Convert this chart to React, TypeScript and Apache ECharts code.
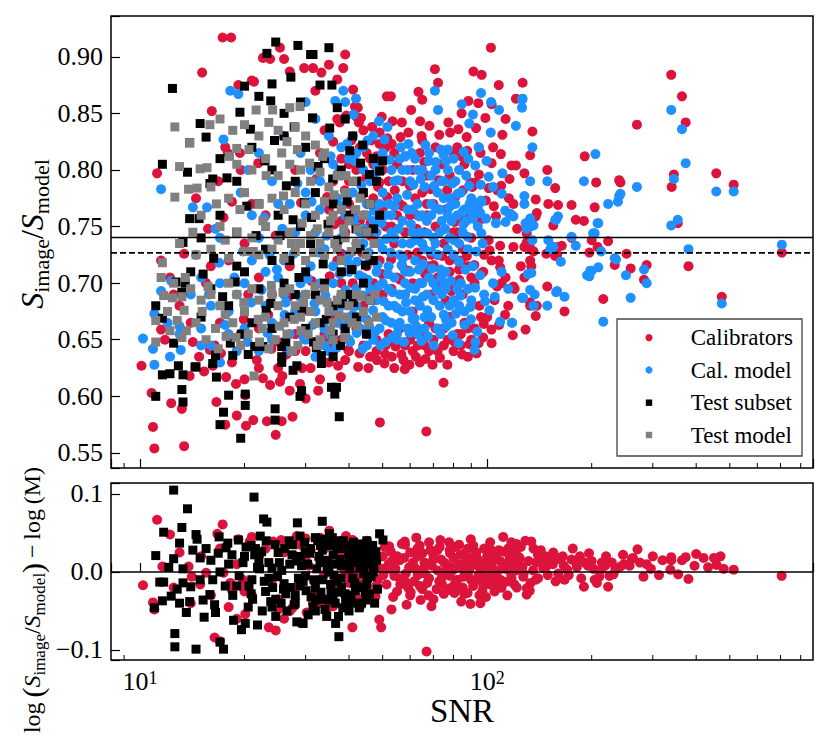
import React, { useEffect, useRef } from 'react';
import * as echarts from 'echarts';

const FONT = "'Liberation Serif', Tinos, 'Nimbus Roman', 'DejaVu Serif', serif";
const RED = '#DC143C';
const BLUE = '#1E90FF';
const BLACK = '#000000';
const GRAY = '#808080';

const X_MIN = 8.25;
const X_MAX = 868;
const TOP_Y_MIN = 0.5367;
const TOP_Y_MAX = 0.936;
const BOT_Y_MIN = -0.1129;
const BOT_Y_MAX = 0.1141;
const MEAN_LINE = 0.7403;
const MEDIAN_LINE = 0.7267;
const ZERO_LINE = 0;
const MINOR_TICKS = [9, 20, 30, 40, 50, 60, 70, 80, 90, 200, 300, 400, 500, 600, 700, 800];
const LEGEND_LABELS = ['Calibrators', 'Cal. model', 'Test subset', 'Test model'];

const calibrators = [
  [17.3,.917],[18.3,.917],[15.1,.886],[22.6,.899],[23.7,.898],[25.3,.908],[29.7,.890],[31.5,.890],[27,.887],[26,.898],[21,.879],[19.2,.875],[21.3,.878],[16.1,.852],[17.6,.820],[17.9,.815],[19.4,.815],[11.2,.797],[17.4,.758],[11.5,.720],[12.2,.705],[11.5,.659],[11.8,.650],[10.1,.627],[13.9,.618],[14.8,.635],[16.2,.627],[10.8,.603],[12.3,.594],[13.2,.589],[10.9,.573],[11.0,.554],[13.4,.556],[17.7,.617],[16.6,.595],[17.6,.575],[19.0,.583],[20.2,.574],[21.2,.579],[20.1,.601],[23.2,.578],[25.6,.578],[24.6,.566],[27.5,.582],[28.9,.611],[23.7,.610],[25.3,.613],[25.7,.618],[22.6,.616],[18.4,.630],[15.9,.641],[16.4,.645],
  [14.5,.775],[16.8,.790],[19.5,.800],[21,.770],[23,.760],[26,.745],[28,.800],[20,.735],[18,.720],[22,.705],[24,.690],[27,.715],[15.5,.700],[13,.680],[17,.665],[19.5,.655],[22,.660],[25,.648],[28,.655],[30,.640],[14,.665],[12.5,.690],[16,.715],[20.5,.690],
  [22,.625],[25,.625],[28,.640],[31,.625],[33,.615],[35,.630],[27,.605],[30,.598],[20,.615],
  [14.2,.648],[15.3,.622],[17.1,.638],[18.9,.611],[21.7,.632],[23.9,.642],[26.4,.637],[29.3,.625],[31.8,.648],[32.6,.605],[19.9,.668],[23.4,.672],[26.8,.688],[29.8,.676],[31.2,.702],[24.6,.742],[29.1,.771],[32.2,.792],[21.9,.806],[18.4,.772],[15.7,.748],[13.4,.726],
  [33.3,.886],[38.5,.890],[39,.902],[41.1,.871],[41.6,.856],[42.4,.855],[39.3,.848],[42,.847],[42.7,.842],[35,.893],[37,.880],[32,.870],
  [46.3,.826],[49,.823],[49,.833],[51.6,.828],[56.3,.829],[53.4,.843],[51.4,.865],[52.8,.865],[44,.835],[45,.815],[47,.805],[43,.820],[48,.812],[50,.800],[52,.790],[55,.805],[58,.812],[45,.795],[48.5,.785],[42,.800],[40,.790],[38,.810],[36,.825],[34,.835],[37,.845],[33,.815],
  [36,.790],[40,.805],[43,.790],[46,.810],[51,.820],[54,.815],[57,.790],[61,.800],[64,.815],[67,.795],[71,.820],[74,.805],[78,.795],[82,.820],[86,.805],
  [37.6,.842],[40.6,.826],[43.3,.846],[46.6,.838],[49.7,.847],[53.1,.823],[56.8,.842],[60.4,.853],[64.1,.843],[68.2,.839],[72.8,.831],[77.3,.842],[82.6,.836],[87.3,.829],[92.9,.837],[98.8,.846],
  [40,.770],[44,.760],[47,.775],[50,.765],[53,.750],[56,.770],[60,.760],[62,.775],[65,.780],[58,.745],[54,.735],[46,.742],[42,.735],[38,.755],[35,.765],[63,.740],[67,.760],[70,.770],[66,.745],
  [34.6,.776],[36.3,.752],[38.9,.782],[41.2,.762],[43.7,.778],[46.1,.753],[48.9,.789],[51.5,.776],[54.2,.782],[57.1,.768],[59.9,.786],[62.6,.748],[65.9,.807],[68.7,.783],[72.6,.791],[76.7,.782],[80.9,.776],[85.1,.782],[89.6,.789],[94.7,.796],[99.1,.773],[104.5,.768],[109.7,.786],
  [39,.745],[43,.755],[47,.740],[51,.750],[55,.760],[59,.725],[63,.760],[67,.770],[71,.750],[76,.765],[82,.745],[88,.760],
  [37,.720],[41,.700],[45,.715],[49,.720],[53,.695],[57,.715],[61,.700],[65,.720],[69,.725],[73,.700],[78,.710],[84,.720],[90,.705],
  [35.2,.706],[38.1,.726],[40.8,.713],[43.6,.727],[46.4,.692],[49.8,.708],[52.9,.721],[56.2,.703],[59.4,.711],[62.9,.727],[66.3,.708],[70.1,.716],[74.2,.724],[78.9,.693],[83.1,.703],[87.4,.724],[91.8,.716],[96.5,.709],[101.6,.729],[106.8,.697],
  [75,.735],[80,.745],[85,.730],[90,.740],[78,.720],[83,.712],[72,.725],[68,.715],
  [37.9,.617],[42.5,.626],[50.6,.629],[57.9,.624],[53.1,.635],[57.4,.632],[62.3,.635],[54.5,.644],[74.9,.612],[49.1,.577],[66.8,.569],[40,.640],[44,.645],[46,.635],[39,.632],[48,.650],[52,.655],[56,.660],[60,.650],[65,.655],[68,.665],[70,.650],[75,.660],[78,.670],[82,.655],[86,.665],[90,.650],[61,.675],[58,.690],[64,.700],[69,.690],[72,.705],[55,.705],[50,.690],[47,.700],[44,.680],[41,.690],[38,.700],[36,.670],[34,.655],[76,.685],[80,.700],[85,.690],[88,.715],[92,.700],[95,.680],[97.4,.652],[103,.647],[94.5,.647],[118.5,.654],[129,.659],[100,.670],[105,.685],[110,.700],[115,.680],[120,.695],[125,.715],[108,.720],[98,.725],
  [36,.640],[38,.650],[42,.660],[45,.655],[48,.640],[51,.645],[54,.625],[58,.645],[61,.640],[64,.630],[68,.640],[71,.660],[75,.645],[80,.640],[84,.655],[88,.660],[92,.660],[96,.670],
  [34.8,.647],[37.2,.627],[39.8,.641],[42.9,.638],[45.5,.625],[48.1,.632],[50.9,.637],[53.6,.648],[56.6,.637],[59.7,.628],[63.1,.645],[66.4,.633],[69.6,.628],[73.1,.634],[76.8,.628],[80.6,.648],[84.7,.637],[88.9,.646],[93.2,.638],[97.8,.664],[102.9,.659],[108.2,.663],[112.6,.672],
  [62,.655],[66,.645],[72,.640],[77,.650],[84,.645],[88,.635],
  [63.4,.869],[65,.862],[70.7,.889],[72.2,.877],[102.5,.908],[91.3,.887],[96.4,.884],[88.3,.861],[94.3,.859],[84.4,.850],[108,.875],[103,.858],[110.6,.831],[126.5,.877],[121,.863],[104,.820],[109.5,.814],[94.5,.820],[95.7,.815],[87.6,.817],[79.9,.815],[84.4,.812],[78.2,.833],[64.7,.830],[65,.826],[59.3,.833],[103,.806],[117.5,.804],[128,.797],[92.6,.789],[90.6,.785],[115.5,.775],[119,.770],[97.4,.757],[101,.784],[107,.782],[94,.754],[87,.756],[80.6,.754],[84.4,.757],[106,.759],[122,.748],[121,.804],[116,.792],
  [97.4,.710],[103,.720],[109,.714],[113,.705],[119,.697],[128,.705],[133,.683],[139,.762],[130,.744],[133,.731],
  [135,.834],[133,.813],[138,.774],[138,.759],[128,.732],[136,.728],[133,.720],[134,.715],[133,.680],[138,.671],[149,.800],[157,.784],[175,.769],[160,.769],[150,.770],[155,.751],[180,.756],[190,.755],[164,.733],[155,.732],[159,.725],[149,.697],[167,.675],[191,.812],[206,.789],[240,.791],[242,.789],[204,.767],[200,.738],[223,.737],[208,.732],[197,.727],[233,.716],[252,.726],[259,.713],[288,.716],[283,.703],[216,.686],[270,.840],[339,.884],[364,.865],[373,.842],[345,.796],[340,.785],[457,.797],[513,.787],[354,.753],[380,.715],[706,.727],[474,.688],[175,.740],[109,.733],[101,.738],[119,.732],[130,.736],[160,.732],[148,.726],[157,.724],[139,.680],[113,.845]
];

const calModel = [
  [18.2,.870],[19.2,.867],[17.4,.827],[11.5,.783],[14.2,.767],[15.6,.767],[16.5,.748],[12.3,.702],[11.5,.693],[11.0,.673],[10.2,.651],[10.9,.642],[12.2,.635],[13.1,.641],[11.0,.628],[13,.662],[14,.690],[15,.705],[16,.680],[17,.700],[18,.675],[19,.690],[20,.660],[21,.720],[22,.740],[23,.680],[24,.665],[25,.705],[26,.690],[27,.655],[28,.675],[14.5,.725],[17,.740],[19.5,.780],[20.5,.800],[22,.815],[24,.790],[26,.830],[27,.770],[18,.655],[16,.645],[22,.640],[15,.660],
  [20,.700],[23,.710],[26,.720],[29,.700],[31,.715],[33,.700],[21,.760],[25,.770],[28,.745],[30,.780],[33,.765],[24,.650],[27,.640],[30,.650],[32,.635],[34,.645],[19,.640],[17,.630],[15,.645],[13,.655],[12,.665],
  [15.8,.690],[16.9,.718],[18.7,.705],[19.8,.728],[20.9,.683],[22.4,.694],[23.6,.725],[24.8,.712],[26.3,.683],[27.7,.726],[28.9,.688],[30.4,.704],[31.8,.682],[32.9,.727],[22.8,.758],[25.7,.748],[28.4,.788],[31.2,.772],[29.6,.652],[31.4,.663],[26.1,.672],[23.3,.656],[20.4,.648],[17.6,.663],
  [38.5,.870],[39,.860],[36.5,.861],[41.9,.863],[41.2,.849],[48.8,.843],[51.6,.838],[56.4,.820],[59.3,.823],[60.7,.815],[66.4,.822],[70.7,.870],[72.2,.853],[71.1,.807],[74.9,.813],[77,.818],[30,.860],[32,.845],[35,.830],[29,.815],[31,.800],[33,.790],[36,.805],[38,.795],[40,.810],[42,.815],[44,.800],[46,.790],[48,.805],[50,.780],[52,.770],[54,.790],[57,.800],[60,.790],[63,.800],[66,.785],[69,.795],[72,.780],[75,.790],[78,.775],[81,.790],[84,.780],[87,.795],[90,.775],[93,.770],
  [35.4,.812],[37.3,.798],[39.5,.823],[41.6,.808],[43.4,.786],[45.2,.826],[47.8,.798],[50.6,.827],[52.4,.809],[55.3,.791],[58.1,.812],[61.3,.787],[64.4,.792],[67.9,.808],[70.4,.786],[73.5,.818],[76.2,.808],[79.4,.788],[82.2,.779],[85.6,.816],[88.7,.786],[92.4,.804],[95.8,.787],[99.6,.808],
  [30,.760],[32,.745],[34,.730],[36,.715],[38,.740],[40,.725],[42,.750],[44,.735],[46,.720],[48,.745],[50,.730],[52,.715],[54,.740],[56,.725],[58,.710],[60,.735],[62,.720],[64,.745],[66,.730],[68,.705],[70,.740],[72,.725],[74,.755],[76,.710],[78,.740],[80,.725],[82,.760],[85,.745],[88,.730],[91,.715],[94,.750],[97,.735],[45,.760],[49,.770],[53,.760],[57,.755],[61,.765],[65,.760],[69,.770],[73,.765],[77,.760],[81,.770],[86,.765],
  [34.5,.742],[36.8,.733],[38.2,.768],[39.7,.718],[41.3,.757],[42.8,.707],[44.1,.748],[45.6,.727],[47.2,.764],[48.3,.716],[49.6,.753],[51.2,.739],[52.7,.727],[54.1,.768],[55.6,.748],[57.2,.722],[58.8,.778],[60.3,.752],[62.1,.738],[63.8,.759],[65.4,.717],[67.3,.744],[69.1,.728],[71.2,.766],[73.4,.712],[75.6,.748],[77.8,.767],[80.3,.738],[82.9,.719],[85.4,.752],[87.8,.741],[90.3,.762],[93.1,.728],[96.2,.744],[99.3,.757],
  [30,.690],[32,.675],[34,.660],[36,.650],[38,.680],[40,.665],[42,.695],[44,.670],[46,.655],[48,.685],[50,.670],[52,.695],[54,.680],[56,.665],[58,.690],[60,.675],[62,.695],[64,.680],[66,.670],[70,.685],[74,.690],[78,.680],[82,.695],[86,.675],[90,.685],[92,.641],[92.5,.648],[117.8,.665],[35,.640],[40,.650],[45,.645],[55,.650],[65,.700],[75,.700],[98,.690],[104,.700],[110,.710],[115,.695],
  [34.2,.689],[35.9,.676],[37.6,.708],[39.1,.694],[40.7,.683],[42.2,.719],[43.9,.689],[45.3,.703],[46.9,.676],[48.6,.697],[50.3,.684],[51.8,.708],[53.4,.692],[55.1,.678],[56.7,.716],[58.4,.683],[60.1,.696],[61.8,.669],[63.6,.712],[65.3,.688],[67.2,.676],[69.4,.713],[71.5,.694],[73.8,.705],[76.1,.668],[78.6,.702],[81.2,.673],[83.7,.689],[86.5,.712],[89.4,.679],[92.3,.696],[95.4,.707],[98.6,.684],[101.5,.676],[105.2,.688],
  [35.1,.655],[36.9,.643],[38.6,.662],[40.3,.648],[42.1,.656],[43.8,.642],[45.7,.662],[47.5,.657],[49.3,.645],[51.1,.667],[53.2,.652],[55.4,.661],[57.6,.648],[59.8,.656],[62.4,.662],[64.7,.649],[67.5,.653],[70.2,.645],[73.3,.655],[76.4,.662],[79.6,.654],[82.7,.647],[86.1,.663],[89.8,.668],[93.6,.657],
  [37,.775],[39,.760],[41,.780],[43,.745],[45,.770],[47,.755],[49,.735],[51,.760],[53,.745],[55,.775],[57,.735],[59,.765],[61,.745],[63,.770],[65,.735],[67,.755],[69,.760],[71,.735],[73,.745],[75,.775],[77,.730],[79,.755],[83,.735],[87,.755],[89,.770],
  [36,.700],[38,.690],[40,.710],[42,.680],[44,.705],[46,.695],[48,.710],[50,.700],[52,.680],[54,.705],[56,.690],[58,.700],[60,.710],[62,.685],[64,.700],[67,.690],[70,.700],[73,.680],[76,.695],[80,.685],[84,.700],[88,.695],
  [37,.665],[39,.655],[41,.672],[43,.660],[45,.668],[47,.650],[49,.660],[51,.648],[53,.665],[55,.655],[57,.675],[59,.660],[61,.668],[63,.655],[66,.660],[69,.670],[72,.660],[75,.672],[79,.665],[83,.680],
  [38,.820],[41,.830],[44,.820],[47,.830],[50,.815],[53,.800],[56,.810],[59,.800],[62,.810],[65,.800],[68,.815],[71,.800],[74,.790],[77,.800],[80,.810],[83,.800],
  [96,.868],[91,.849],[84.5,.858],[102.6,.860],[108.2,.853],[88.8,.841],[102.4,.833],[126.5,.863],[126,.855],[121,.839],[110.6,.797],[101,.794],[104,.785],[110.2,.779],[112.7,.764],[117,.761],[96,.773],[95.5,.762],[106,.753],[113,.754],[94.6,.820],[88.2,.810],[96.4,.772],[85,.763],[92,.764],[91,.757],[94,.766],[116,.761],[119,.759],[129,.753],[133,.757],[136,.751],[130,.748],[157,.756],[160,.759],[209,.753],[223,.770],[240,.777],[180,.733],[213,.728],[233,.722],[202,.744],[152,.730],[155,.732],[163,.719],[175,.741],[194,.707],[200,.711],[209,.714],[216,.666],[158,.692],[167,.688],[126,.687],[118,.665],[109,.666],[339,.853],[364,.836],[373,.806],[345,.792],[457,.781],[513,.781],[339,.751],[354,.756],[380,.730],[706,.734],[474,.682],[205,.814],[190,.790],[242,.779],[238,.772],[270,.785],[208,.753],[204,.744],[235,.721],[251,.707],[197,.706],[198,.711],[283,.712],[288,.700],[259,.687],[149,.790],[135,.820],[133,.790],[128,.777],[128,.770],[133,.750],[135,.738],[131,.708],[134,.709],[133,.694],[137,.690],[127,.687],[136,.680],[149,.680],[158,.756],[150,.738],[159,.693],[126,.862]
];

const testSubset = [
  [12.4,.872],[23.2,.903],[24.6,.913],[28.5,.910],[31,.902],[27.2,.882],[20,.874],[24,.876],[23.8,.861],[19.4,.851],[14.9,.841],[15.5,.829],[13.9,.824],[11.6,.805],[13.7,.798],[15.9,.788],[16.2,.792],[13.9,.757],[13.3,.736],[12.7,.701],[13.5,.700],[13.2,.692],[11.1,.680],[11.6,.669],[12.5,.647],[11.6,.619],[12.2,.620],[12.9,.627],[13.3,.619],[14.5,.626],[16.2,.629],[11.1,.600],[13.2,.606],[13.3,.595],[16.5,.636],[16.6,.617],[18.0,.601],[17.4,.586],[17.0,.575],[20.1,.592],[20.1,.602],[19.5,.563],[24.5,.589],[24.5,.579],[29.2,.605],[28.9,.600],[28.3,.627],[27.6,.623],[25.6,.635],[25.6,.630],[18.5,.636],[20.5,.637],[21.4,.644],[22.6,.644],[25.6,.644],[14.4,.626],[18.2,.647],[31.5,.902],[35,.908],[35.7,.875],[35.6,.608],[36.8,.608],[36.4,.602],[37.5,.582],[33.3,.636],[33.3,.629],[32.2,.643],[36,.635],
  [17,.810],[19,.790],[21,.820],[22,.770],[24,.800],[26,.830],[28,.790],[30,.820],[32,.780],[34,.810],[36,.770],[38,.800],[40,.760],[42,.790],[44,.780],[46,.770],[25,.760],[29,.750],[31,.735],[27,.720],[23,.730],[19,.745],[17,.760],[15,.740],[20,.710],[22,.695],[24,.720],[26,.700],[28,.690],[30,.710],[32,.690],[34,.700],[36,.680],[38,.710],[40,.690],[42,.670],[44,.700],[46,.685],[18,.680],[21,.665],[24,.660],[27,.670],[30,.660],[33,.665],[36,.655],[39,.660],[16,.695],[14,.710],[15,.670],[19,.715],[41,.830],[39,.845],[37,.855],[29,.860],[26,.850],[22,.865],[33,.875],[47,.810],[48,.790],[45,.745],[43,.730],[47,.720],[49,.760],[40.2,.817],[50,.808],[49,.799],
  [14.8,.757],[16.3,.722],[17.8,.793],[18.8,.701],[20.3,.768],[21.6,.742],[22.9,.808],[23.8,.682],[25.3,.742],[26.4,.786],[27.6,.756],[28.7,.705],[29.8,.771],[31.2,.758],[32.6,.803],[33.7,.717],[34.8,.752],[35.9,.792],[37.1,.738],[38.3,.682],[39.5,.772],[40.7,.712],[41.9,.748],[43.2,.806],[44.6,.716],[45.8,.796],[47.1,.748],[29.3,.677],[31.6,.648],[34.4,.668],[37.8,.645],[41.2,.683],[44.9,.655],[23.1,.676],[26.3,.648],[19.6,.655],[17.3,.688],[15.2,.708],[35.2,.837],[31.4,.846],[27.8,.838],[24.4,.826],[20.8,.836],[43.8,.822]
];

const testModel = [
  [21.6,.853],[24.1,.853],[27,.855],[28.9,.856],[12.6,.838],[15.9,.840],[13.9,.824],[19,.819],[13,.803],[14.9,.801],[15.6,.802],[12.6,.776],[13.8,.783],[14.6,.784],[11.6,.718],[11.7,.689],[12.4,.687],[13.4,.676],[11.1,.667],[12.8,.667],[13.6,.658],[13.2,.652],[11.1,.648],[21.3,.618],[16.8,.642],[17.7,.653],
  [17,.845],[18.5,.835],[20,.840],[22,.830],[23.5,.842],[25,.835],[26.5,.825],[28,.838],[30,.830],[32,.822],[34,.815],[19,.805],[21,.800],[23,.810],[25,.795],[27,.805],[29,.800],[31,.790],[33,.798],[35,.785],[37,.795],[39,.780],[41,.790],[43,.775],[16,.785],[18,.775],[20,.780],[22,.770],[24,.775],[26,.765],[28,.780],[30,.770],[32,.760],[34,.772],[36,.760],[38,.765],[40,.755],[44,.760],[15,.760],[17,.750],[19,.745],[21,.740],[23,.750],[25,.738],[27,.745],[29,.735],[31,.742],[33,.735],[35,.745],[37,.730],[39,.740],[42,.735],[45,.745],[13,.735],[14.5,.725],[16,.730],[18,.722],[20,.728],[22,.725],[24,.730],[26,.722],[28,.728],[30,.720],[34,.725],[38,.720],[46,.770],
  [18.1,.812],[20.6,.818],[23.1,.795],[25.6,.815],[28.4,.818],[30.8,.806],[33.6,.812],[36.2,.778],[39.2,.795],[41.8,.765],[16.6,.770],[19.4,.765],[22.6,.755],[25.9,.777],[29.3,.753],[32.4,.748],[35.4,.755],[38.6,.748],[42.4,.748],[44.8,.725],[47.2,.735],[14.2,.745],[17.6,.738],[21.2,.728],[27.3,.735],[31.6,.727],[36.4,.735],[40.6,.728],
  [11.5,.705],[12.5,.700],[14,.695],[15,.685],[16,.690],[17,.680],[18,.700],[19,.690],[20,.675],[21,.695],[22,.685],[23,.670],[24,.690],[25,.680],[26,.665],[27,.695],[28,.680],[29,.670],[30,.690],[31,.675],[32,.665],[33,.685],[34,.695],[35,.675],[36,.665],[37,.685],[38,.690],[39,.670],[40,.680],[42,.690],[44,.675],[46,.685],[48,.670],[14.5,.665],[16.5,.660],[18.5,.665],[20.5,.655],[22.5,.660],[24.5,.650],[26.5,.655],[28.5,.645],[30.5,.655],[33,.650],[36,.650],[12,.675],[15.5,.650],[19.5,.645],[23.5,.642],[27.5,.640],[13.5,.705],
  [13.2,.688],[15.7,.697],[17.6,.672],[19.9,.683],[21.9,.668],[23.9,.698],[25.8,.692],[27.8,.668],[29.6,.683],[31.9,.697],[34.6,.683],[37.4,.672],[40.8,.665],[43.3,.688],[45.6,.665],[47.6,.690],[15.1,.675],[18.9,.652],[22.1,.648],[25.2,.662],[29.1,.658],[32.4,.645],[35.4,.658],[38.9,.652],[42.2,.662],[12.2,.658]
];

const residCal = [
  [11.2,.067],[17.3,.061],[16.7,.049],[10.2,-.017],[11.6,.007],[10.9,-.039],[11.0,-.048],[16.4,-.084],[17.0,-.089],[20.1,-.054],[23.5,-.071],[24.6,-.075],[40.9,-.071],[48.9,-.061],[49.5,-.071],[53,-.048],[66.9,-.102],[57.9,.039],[52.2,.033],[102,.038],[134,.039],[136,.030],[271,.029],[339,.019],[339,.015],[373,.019],[364,.015],[261,.017],[263,.018],[248,.010],[242,.007],[234,.003],[231,-.003],[288,.010],[282,-.006],[337,.003],[355,-.003],[380,-.009],[458,.009],[480,.004],[513,.003],[705,-.005],[207,-.014],[204,-.010],[223,-.019],[190,-.019],[213,.003],[214,.012],[200,.014],[191,.012],[175,.016],[180,.012],[167,-.010],[159,.018],[151,.017],[148,.007],[148,.012],[130,-.029],[130,-.021],[89.5,-.041],[87.8,-.027],[80.5,-.027],[78,-.021],[138,-.010],[117.5,-.008],[102,-.016],[104.5,-.014],[97.5,-.018],
  [12.2,.048],[13.8,.007],[14.1,-.006],[14.9,-.016],[15.5,-.001],[17.4,-.001],[18.2,-.014],[18.4,-.023],[19.8,-.010],[20.2,-.019],[20.7,.039],[19.2,.042],[24.2,.039],[25.5,.041],[28.3,.046],[30,.043],[33,.044],[35.1,.053],[39.2,.046],[41,.041],[43.9,.033],[25,-.048],[27.5,-.046],[30.2,-.052],[31.5,-.040],[36,-.044],[39.3,-.031],[42.8,-.036],[44.6,-.023],[47.7,-.031],
  [50,.020],[52,.010],[54,-.005],[56,.015],[58,-.012],[60,.025],[62,.005],[64,-.018],[66,.012],[68,-.008],[70,.022],[72,.002],[74,-.015],[76,.010],[78,-.005],[80,.018],[82,-.010],[84,.006],[86,.024],[88,-.002],[90,.012],[92,-.012],[94,.016],[96,.003],[98,-.007],[100,.020],[103,.008],[106,-.004],[109,.014],[112,.026],[115,-.012],[118,.010],[121,.002],[124,.018],[127,-.006],[55,-.025],[60,-.030],[65,-.022],[70,-.035],[75,-.028],[85,-.020],[95,-.030],[105,-.025],[110,-.020],[58,.035],[63,.030],[68,.038],[73,.032],[78,.028],[83,.035],[88,.030],[93,.025],[98,.030],[108,.028],[115,.030],[120,.025],[125,.032],[140,.022],[145,.005],[155,.025],[165,.020],[170,.003],[185,.020],[195,.008],[220,.020],[225,-.005],[300,.020],[320,.015],[400,.023],[420,.018],[450,.018],[470,.020],
  [30.6,.008],[31.7,-.012],[32.8,.018],[33.9,-.004],[35.3,.012],[36.4,-.022],[37.7,.026],[38.8,.002],[40.1,-.014],[41.4,.022],[42.7,-.002],[44.2,.014],[45.6,-.026],[47.1,.028],[48.4,-.010],[49.8,.004],
  [51.3,-.016],[52.8,.026],[54.4,.004],[55.9,-.008],[57.6,.018],[59.2,-.020],[61.1,.012],[63.1,-.004],[65.1,.024],[67.2,-.014],[69.3,.008],[71.5,-.022],[73.7,.016],[75.9,.000],[78.2,.024],[80.6,-.016],[83.1,.010],[85.6,-.006],[88.3,.018],[91.1,-.018],[93.9,.008],[96.8,-.012],[99.7,.014],[102.8,-.002],[106.1,.022],[109.3,-.010],[112.7,.004],[116.2,.018],[119.8,-.016],[123.5,.010],[127.4,-.002],[131.5,.014],[135.6,.002],[140.2,-.008],[144.6,.016],[149.5,-.004],[154.6,.010],[160.2,-.002],[166.3,.008],
  [50.7,.032],[53.6,-.032],[56.8,.036],[60.2,-.026],[63.9,.034],[67.8,-.030],[71.9,.028],[76.3,-.024],[80.9,.032],[85.9,-.028],[91.2,.034],[96.9,-.024],[102.6,.028],[108.8,-.020],[115.1,.026],[121.7,-.020],
  [52.2,.004],[55.1,.020],[58.3,-.002],[61.6,-.012],[65.6,.004],[69.9,.016],[74.1,-.006],[78.8,.006],[83.7,.022],[88.9,.004],[94.4,-.004],[100.3,.006],[106.6,-.016],[113.4,.010],[120.5,.006],
  [45.1,.040],[62.5,.044],[73.3,.041],[89.7,.042],[111.2,.045],[128.8,.040],[58.6,-.042],[69.1,-.044],[84.2,-.038],[95.6,-.040],[114.3,-.030],[132.6,-.024],[121.4,.036],[142.7,.028],[176.4,.030],[196.5,.024],[186.6,-.008],[218.7,.008],[246.2,.022],[296.2,.004],[312.5,-.004],[395.6,.008],[432.8,.006],
  [41.9,.006],[43.4,-.008],[46.2,.018],[47.9,-.018],[50.2,-.004],[53.1,.014],[56.2,-.016],[59.6,.006],[62.9,.020],[66.1,-.002],[68.6,.028],[72.8,-.012],[75.2,.012],[79.4,.002],[81.8,-.022],[86.9,.012],[89.9,-.010],[92.6,.022],[97.7,.008],[101.1,-.008],[104.2,.016],[107.6,.002],[111.1,-.014],[117.1,-.002],[122.6,.020],[126.3,.006],[133.2,-.014],[138.4,.012],[147.2,.020],[157.5,-.012],[162.8,.016],[171.8,-.004],[181.3,.006],[202.5,.004],[210.4,-.006],[228.6,.012],[257.2,.008],[275.4,.012],[64.3,-.036],[77.7,.038],[99.2,-.032],[117.4,.038],
  [22,.020],[24,-.010],[26,.025],[28,-.020],[30,.015],[32,-.025],[34,.030],[36,-.015],[38,.020],[40,-.005],[42,.010],[44,-.018],[46,.005],[48,.015],[21,-.030],[25,-.035],[29,.035],[33,-.040],[37,.038],[41,-.030],[45,.028],[12.5,-.020],[13,.025],[14,-.040],[15,.020],[16,-.030],[17,.030],[18,-.045],[19,.010],[20,-.025],[23,.030],[27,-.050],[31,.028],[35,-.045],[39,.030],[43,-.045],[47,-.035],[21,.045],[26,-.060],[19,-.060],[29,-.065]
];

const residTest = [
  [12.5,.105],[13.7,.081],[21.3,.096],[22.7,.068],[23.2,.064],[28.4,.063],[33.5,.065],[11.7,.051],[13.2,.057],[11.1,.021],[12.5,.017],[13.3,.004],[11.7,-.013],[11.4,-.013],[11.0,-.046],[11.6,-.037],[12.3,-.031],[12.6,-.079],[12.6,-.096],[14.5,-.099],[17.0,-.090],[17.4,-.099],[18.6,-.062],[19.6,-.074],[20.1,-.066],[21.8,-.068],[24.6,-.057],[28.3,-.064],[29.5,-.066],[34.5,-.057],[36.6,-.066],[37.3,-.057],[37.4,-.083],[49,.049],[50.1,.041],[19.2,.041],[20.9,.034],[22.2,.046],[28.9,.046],[32.0,.044],[35.1,.049],[37,.040],[39.8,.034],[41.8,.029],[45.4,.029],[13.0,.037],[14.5,.048],[14.6,.042],[15.5,.030],[14.9,.018],[16.8,.024],[17.7,.031],[17.9,.037],[13.3,-.014],[14.0,-.019],[14.9,-.010],[15.9,-.029],[16.4,-.042],[15.2,-.036],[13.9,-.038],[13.0,-.040],[16.5,-.052],
  [20,.020],[21,-.010],[22,.015],[23,-.025],[24,.005],[25,.025],[26,-.015],[27,.010],[28,-.030],[29,.020],[30,-.005],[31,.030],[32,-.020],[33,.012],[34,-.035],[35,.000],[36,.022],[37,-.012],[38,.008],[39,-.028],[40,.018],[41,-.008],[42,.012],[43,-.020],[44,.005],[45,-.015],[46,.010],[47,.000],[48,.015],[21.5,.030],[23.5,.012],[25.5,-.040],[27.5,.035],[29.5,-.012],[31.5,-.045],[33.5,.028],[35.5,-.025],[37.5,.030],[39.5,-.045],[41.5,.020],[43.5,-.040],[18,.010],[19,-.018],[20.5,-.045],[22.5,-.050],[24.5,.035],[26.5,-.050],[30.5,-.055],[32.5,.040],[34.5,.015],[36.5,-.040],[38.5,.040],[40.5,-.030],[42.5,.030],[44.5,-.025],[46.5,.020],[17,.000],[16,.015],[18.5,-.030],[24,-.045],[28,-.040],[32,-.050],[36,-.030],[40,-.050],[44,.015],
  [18.4,.022],[19.3,-.005],[20.2,.032],[21.1,-.035],[22.1,.004],[23.1,.040],[24.1,-.020],[25.2,.012],[26.3,-.028],[27.4,.022],[28.6,-.008],[29.8,.038],[31.1,-.032],[32.3,.004],[33.6,-.010],[34.9,.034],[36.2,-.004],[37.6,.016],[39.1,-.038],[40.6,.028],[42.1,-.018],[43.7,.022],[45.2,-.008],[46.8,.034],[48.3,-.022],
  [19.8,.012],[21.4,.022],[22.8,-.012],[24.6,-.035],[26.1,.030],[27.8,-.042],[29.2,.008],[30.8,.024],[32.1,-.036],[33.8,.042],[35.4,-.016],[36.9,.032],[38.4,-.046],[40.2,.004],[41.7,-.024],[43.2,.036],[44.8,-.036],[46.3,-.006],[47.8,.026],
  [20.6,-.018],[23.5,-.008],[25.9,-.022],[28.2,.014],[30.1,-.024],[32.8,.020],[34.1,-.048],[35.8,.044],[37.2,-.026],[39.6,.010],[41.2,.038],[42.8,-.046],[44.1,-.002],[45.9,.020],[47.4,-.040],[17.6,-.018],[16.9,.045],[16.2,-.010],[15.3,-.058],[14.2,.028],[13.6,-.052],[12.8,-.022],[12.1,.006],
  [20.9,-.028],[22.4,.026],[23.8,-.038],[25.6,.002],[26.9,.040],[28.9,-.018],[30.4,.010],[31.8,-.010],[33.2,-.026],[34.6,.004],[36.6,.010],[38.1,-.020],[39.9,.024],[41.5,-.014],[43.0,.006],[44.5,.028],[45.8,-.028],[47.2,.006],[21.8,.006],[24.9,-.006],[27.1,-.020],[29.9,.026],[33.1,.034],[35.1,-.036],[37.9,-.008],[40.9,-.040],[42.4,.016],[45.0,.040]
];

function isMultiple(v: number, step: number) {
  const r = v / step;
  return Math.abs(r - Math.round(r)) < 1e-6;
}

function minorTickSeries(xi: number, yi: number, yBase: number) {
  return {
    type: 'custom',
    xAxisIndex: xi,
    yAxisIndex: yi,
    silent: true,
    clip: false,
    z: 10,
    data: MINOR_TICKS.map((v) => [v, yBase]),
    encode: { x: 0, y: 1 },
    renderItem: (params: any, api: any) => {
      const p = api.coord([api.value(0), api.value(1)]);
      return {
        type: 'line',
        shape: { x1: p[0], y1: p[1], x2: p[0], y2: p[1] - 5 },
        style: { stroke: '#000', lineWidth: 1 },
      };
    },
  };
}

export default function App() {
  const ref = useRef<HTMLDivElement>(null);
  useEffect(() => {
    if (!ref.current) return;
    const chart = echarts.init(ref.current, null, { renderer: 'svg' });
    const xBase = (gi: number, labels: boolean) => ({
      gridIndex: gi,
      type: 'log',
      logBase: 10,
      min: X_MIN,
      max: X_MAX,
      axisLine: { show: false },
      splitLine: { show: false },
      axisTick: { show: true, inside: true, length: 9, lineStyle: { color: '#000', width: 1.2 } },
      axisLabel: labels
        ? {
            show: true,
            margin: 9,
            formatter: (v: number) => {
              const e = Math.log10(v);
              const r = Math.round(e);
              if (Math.abs(e - r) > 1e-6) return '';
              return '{b|10}{s|' + r + '}';
            },
            rich: {
              b: { fontSize: 26, fontFamily: FONT, color: '#000', lineHeight: 24 },
              s: { fontSize: 18, fontFamily: FONT, color: '#000', lineHeight: 14, verticalAlign: 'top' },
            },
          }
        : { show: false },
    });
    const option: any = {
      animation: false,
      backgroundColor: '#ffffff',
      textStyle: { fontFamily: FONT },
      grid: [
        { left: 111, top: 16, width: 702, height: 452, show: true, borderColor: '#000', borderWidth: 1.5, backgroundColor: 'transparent', containLabel: false, outerBoundsMode: 'none' },
        { left: 111, top: 483, width: 702, height: 177, show: true, borderColor: '#000', borderWidth: 1.5, backgroundColor: 'transparent', containLabel: false, outerBoundsMode: 'none' },
      ],
      xAxis: [xBase(0, false), xBase(1, true)],
      yAxis: [
        {
          gridIndex: 0,
          type: 'value',
          min: TOP_Y_MIN,
          max: TOP_Y_MAX,
          splitNumber: 8,
          axisLine: { show: false },
          splitLine: { show: false },
          axisTick: { show: true, inside: true, length: 9, lineStyle: { color: '#000', width: 1.2 } },
          axisLabel: {
            margin: 8,
            fontSize: 26,
            fontFamily: FONT,
            color: '#000',
            formatter: (v: number) => (isMultiple(v, 0.05) ? v.toFixed(2) : ''),
          },
        },
        {
          gridIndex: 1,
          type: 'value',
          min: BOT_Y_MIN,
          max: BOT_Y_MAX,
          splitNumber: 2,
          axisLine: { show: false },
          splitLine: { show: false },
          axisTick: { show: true, inside: true, length: 9, lineStyle: { color: '#000', width: 1.2 } },
          axisLabel: {
            margin: 8,
            fontSize: 26,
            fontFamily: FONT,
            color: '#000',
            formatter: (v: number) => {
              if (!isMultiple(v, 0.1)) return '';
              if (Math.abs(v) < 1e-9) return '0.0';
              return (v < 0 ? '\u2212' : '') + Math.abs(v).toFixed(1);
            },
          },
        },
      ],
      series: [
        { type: 'scatter', name: 'Calibrators', xAxisIndex: 0, yAxisIndex: 0, data: calibrators, symbol: 'circle', symbolSize: 10, itemStyle: { color: RED, opacity: 1 }, z: 2, silent: true },
        { type: 'scatter', name: 'Cal. model', xAxisIndex: 0, yAxisIndex: 0, data: calModel, symbol: 'circle', symbolSize: 10, itemStyle: { color: BLUE, opacity: 1 }, z: 3, silent: true },
        { type: 'scatter', name: 'Test subset', xAxisIndex: 0, yAxisIndex: 0, data: testSubset, symbol: 'rect', symbolSize: 9, itemStyle: { color: BLACK, opacity: 1 }, z: 4, silent: true },
        { type: 'scatter', name: 'Test model', xAxisIndex: 0, yAxisIndex: 0, data: testModel, symbol: 'rect', symbolSize: 9, itemStyle: { color: GRAY, opacity: 1 }, z: 5, silent: true },
        { type: 'line', xAxisIndex: 0, yAxisIndex: 0, data: [[X_MIN, MEAN_LINE], [X_MAX, MEAN_LINE]], symbol: 'none', lineStyle: { color: '#000', width: 1.6 }, z: 6, silent: true },
        { type: 'line', xAxisIndex: 0, yAxisIndex: 0, data: [[X_MIN, MEDIAN_LINE], [X_MAX, MEDIAN_LINE]], symbol: 'none', lineStyle: { color: '#000', width: 1.6, type: [6, 3] }, z: 6, silent: true },
        minorTickSeries(0, 0, TOP_Y_MIN),
        { type: 'scatter', name: 'Calibrators residual', xAxisIndex: 1, yAxisIndex: 1, data: residCal, symbol: 'circle', symbolSize: 10, itemStyle: { color: RED, opacity: 1 }, z: 2, silent: true },
        { type: 'scatter', name: 'Test residual', xAxisIndex: 1, yAxisIndex: 1, data: residTest, symbol: 'rect', symbolSize: 9, itemStyle: { color: BLACK, opacity: 1 }, z: 4, silent: true },
        { type: 'line', xAxisIndex: 1, yAxisIndex: 1, data: [[X_MIN, ZERO_LINE], [X_MAX, ZERO_LINE]], symbol: 'none', lineStyle: { color: '#000', width: 1.6 }, z: 6, silent: true },
        minorTickSeries(1, 1, BOT_Y_MIN),
      ],
      graphic: [
        {
          type: 'text',
          x: 32,
          y: 234,
          rotation: Math.PI / 2,
          z: 50,
          style: {
            text: '{i|S}{sub|image}{n|/}{i|S}{sub|model}',
            align: 'center',
            verticalAlign: 'middle',
            fill: '#000',
            rich: {
              i: { fontSize: 32, fontStyle: 'italic', fontFamily: FONT, fill: '#000', lineHeight: 40 },
              n: { fontSize: 32, fontFamily: FONT, fill: '#000', lineHeight: 40 },
              sub: { fontSize: 22, fontFamily: FONT, fill: '#000', lineHeight: 20, verticalAlign: 'bottom' },
            },
          },
        },
        {
          type: 'text',
          x: 32,
          y: 600,
          rotation: Math.PI / 2,
          z: 50,
          style: {
            text: '{n|log\u2009}{p|(}{i|S}{sub|image}{n|/}{i|S}{sub|model}{p|)}{n|\u2009\u2212\u2009log\u2009(M)}',
            align: 'center',
            verticalAlign: 'middle',
            fill: '#000',
            rich: {
              i: { fontSize: 24, fontStyle: 'italic', fontFamily: FONT, fill: '#000', lineHeight: 32 },
              n: { fontSize: 24, fontFamily: FONT, fill: '#000', lineHeight: 32 },
              p: { fontSize: 30, fontFamily: FONT, fill: '#000', lineHeight: 32 },
              sub: { fontSize: 17, fontFamily: FONT, fill: '#000', lineHeight: 16, verticalAlign: 'bottom' },
            },
          },
        },
        {
          type: 'text',
          x: 462,
          y: 711,
          z: 50,
          style: { text: 'SNR', fontSize: 33, fontFamily: FONT, fill: '#000', align: 'center', verticalAlign: 'middle' },
        },
        {
          type: 'rect',
          z: 100,
          shape: { x: 617, y: 319, width: 185, height: 137 },
          style: { fill: '#ffffff', stroke: '#444444', lineWidth: 1.3 },
        },
        { type: 'circle', z: 101, shape: { cx: 649, cy: 337.7, r: 3.6 }, style: { fill: RED } },
        { type: 'circle', z: 101, shape: { cx: 649, cy: 370, r: 3.6 }, style: { fill: BLUE } },
        { type: 'rect', z: 101, shape: { x: 645.8, y: 399.5, width: 6.4, height: 6.4 }, style: { fill: BLACK } },
        { type: 'rect', z: 101, shape: { x: 645.8, y: 431.8, width: 6.4, height: 6.4 }, style: { fill: GRAY } },
        ...LEGEND_LABELS.map((t, i) => ({
          type: 'text',
          z: 101,
          x: 690.7,
          y: 337.7 + i * 32.45,
          style: { text: t, fontSize: 23, fontFamily: FONT, fill: '#000', align: 'left', verticalAlign: 'middle' },
        })),
      ],
    };
    chart.setOption(option);
    return () => chart.dispose();
  }, []);
  return <div ref={ref} style={{ position: 'fixed', left: 0, top: 0, width: 830, height: 738, background: '#fff' }} />;
}
